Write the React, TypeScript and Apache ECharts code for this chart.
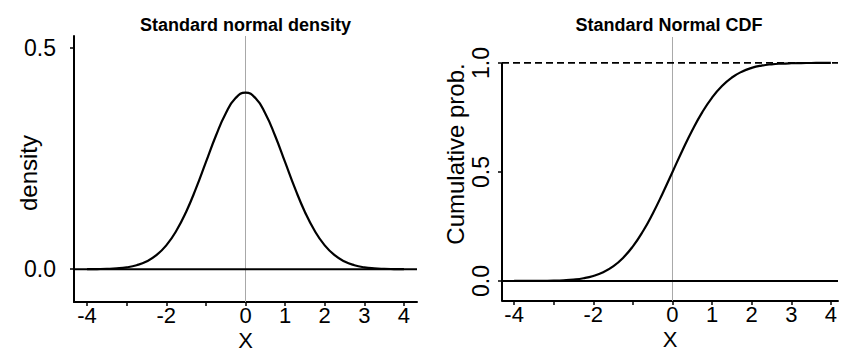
import React, { useEffect, useRef } from "react";
import * as echarts from "echarts";

const FONT = '"Liberation Sans", Arial, Helvetica, sans-serif';

// x positions where the curves were read
const xValues = [
  -4, -3.75, -3.5, -3.25, -3, -2.75, -2.5, -2.25, -2, -1.75, -1.5, -1.25, -1, -0.75, -0.5, -0.25,
  0, 0.25, 0.5, 0.75, 1, 1.25, 1.5, 1.75, 2, 2.25, 2.5, 2.75, 3, 3.25, 3.5, 3.75, 4,
];
const densityValues = [
  0.0001, 0.0004, 0.0009, 0.002, 0.0044, 0.0091, 0.0175, 0.0317, 0.054, 0.0863, 0.1295, 0.1826,
  0.242, 0.3011, 0.3521, 0.3867, 0.3989, 0.3867, 0.3521, 0.3011, 0.242, 0.1826, 0.1295, 0.0863,
  0.054, 0.0317, 0.0175, 0.0091, 0.0044, 0.002, 0.0009, 0.0004, 0.0001,
];
const cdfValues = [
  0.0, 0.0001, 0.0002, 0.0006, 0.0013, 0.003, 0.0062, 0.0122, 0.0228, 0.0401, 0.0668, 0.1056,
  0.1587, 0.2266, 0.3085, 0.4013, 0.5, 0.5987, 0.6915, 0.7734, 0.8413, 0.8944, 0.9332, 0.9599,
  0.9772, 0.9878, 0.9938, 0.997, 0.9987, 0.9994, 0.9998, 0.9999, 1.0,
];

const xTickValues = [-4, -3, -2, -1, 0, 1, 2, 3, 4];
const xTickLabels = [-4, -2, 0, 1, 2, 3, 4];
const densityYTicks = [0, 0.5];
const cdfYTicks = [0, 0.5, 1];

const titles = ["Standard normal density", "Standard Normal CDF"];
const yNames = ["density", "Cumulative prob."];
const xName = "X";

// axis ranges
const leftX = [-4.33, 4.33];
const leftY = [-0.074, 0.527];
const rightX = [-4.306, 4.18];
const rightY = [-0.092, 1.119];

export default function App() {
  const ref = useRef<HTMLDivElement>(null);
  useEffect(() => {
    if (!ref.current) return;
    const chart = echarts.init(ref.current, null, { renderer: "svg" });

    const densityData = xValues.map((x, i) => [x, densityValues[i]]);
    const cdfData = xValues.map((x, i) => [x, cdfValues[i]]);

    const black = "#000";
    const xAxisBase = (range: number[]) => ({
      type: "value" as const,
      min: range[0],
      max: range[1],
      splitLine: { show: false },
      axisLine: { show: true, onZero: false, lineStyle: { color: black, width: 2 } },
      axisTick: {
        show: true,
        length: 4,
        customValues: xTickValues,
        lineStyle: { color: black, width: 1.5 },
      },
      axisLabel: {
        customValues: xTickLabels,
        fontSize: 22,
        lineHeight: 22,
        fontFamily: FONT,
        color: black,
        margin: 2,
        formatter: (v: number) => String(v),
      },
      name: xName,
      nameLocation: "middle" as const,
      nameGap: 27,
      nameMoveOverlap: false,
      nameTextStyle: { fontSize: 22, lineHeight: 22, fontFamily: FONT, color: black },
    });

    const lineSeries = (
      data: number[][],
      xi: number,
      color: string,
      width: number,
      type: any = "solid",
      smooth = false,
      z = 3
    ) => ({
      type: "line" as const,
      xAxisIndex: xi,
      yAxisIndex: xi,
      data,
      smooth,
      symbol: "none",
      clip: false,
      silent: true,
      z,
      lineStyle: { color, width, type },
    });

    chart.setOption({
      animation: false,
      backgroundColor: "#fff",
      grid: [
        { left: 74, top: 36, width: 343, height: 266 },
        { left: 502, top: 37, width: 336, height: 264 },
      ],
      xAxis: [
        { ...xAxisBase(leftX), gridIndex: 0 },
        { ...xAxisBase(rightX), gridIndex: 1 },
      ],
      yAxis: [
        {
          type: "value",
          gridIndex: 0,
          min: leftY[0],
          max: leftY[1],
          splitLine: { show: false },
          axisLine: { show: true, onZero: false, lineStyle: { color: black, width: 2 } },
          axisTick: {
            show: true,
            length: 4,
            customValues: densityYTicks,
            lineStyle: { color: black, width: 1.5 },
          },
          axisLabel: {
            customValues: densityYTicks,
            fontSize: 23,
            fontFamily: FONT,
            color: black,
            margin: 18,
            formatter: (v: number) => v.toFixed(1),
          },
        },
        {
          type: "value",
          gridIndex: 1,
          min: rightY[0],
          max: rightY[1],
          splitLine: { show: false },
          axisLine: { show: false, onZero: false },
          axisTick: {
            show: true,
            length: 4,
            customValues: cdfYTicks,
            lineStyle: { color: black, width: 1.5 },
          },
          axisLabel: {
            customValues: cdfYTicks,
            rotate: 90,
            fontSize: 23,
            fontFamily: FONT,
            color: black,
            margin: 10,
            formatter: (v: number) => v.toFixed(1),
          },
        },
      ],
      graphic: [
        {
          type: "text",
          x: 245.5,
          y: 25,
          style: { text: titles[0], font: `bold 18px ${FONT}`, fill: black, align: "center", verticalAlign: "middle" },
        },
        {
          type: "text",
          x: 669,
          y: 25,
          style: { text: titles[1], font: `bold 18px ${FONT}`, fill: black, align: "center", verticalAlign: "middle" },
        },
        {
          type: "text",
          x: 28,
          y: 173,
          rotation: Math.PI / 2,
          style: { text: yNames[0], font: `24px ${FONT}`, fill: black, align: "center", verticalAlign: "middle" },
        },
        {
          type: "text",
          x: 455,
          y: 154,
          rotation: Math.PI / 2,
          style: { text: yNames[1], font: `24px ${FONT}`, fill: black, align: "center", verticalAlign: "middle" },
        },
      ],
      series: [
        // left panel
        lineSeries([[0, leftY[0]], [0, leftY[1]]], 0, "#a8a8a8", 1, "solid", false, 1),
        lineSeries([[leftX[0], 0], [leftX[1], 0]], 0, black, 2),
        lineSeries(densityData, 0, black, 2.2, "solid", true, 4),
        // right panel
        lineSeries([[0, rightY[0]], [0, rightY[1]]], 1, "#a8a8a8", 1, "solid", false, 1),
        lineSeries([[rightX[0], 0], [rightX[1], 0]], 1, black, 2),
        lineSeries([[rightX[0], 1], [rightX[1], 1]], 1, black, 1.8, [7, 4]),
        lineSeries([[rightX[0], rightY[0]], [rightX[0], 1]], 1, black, 2),
        lineSeries(cdfData, 1, black, 2.2, "solid", true, 4),
      ],
    });

    return () => chart.dispose();
  }, []);

  return (
    <div
      ref={ref}
      style={{ position: "absolute", left: 0, top: 0, width: 857, height: 362, background: "#fff" }}
    />
  );
}
